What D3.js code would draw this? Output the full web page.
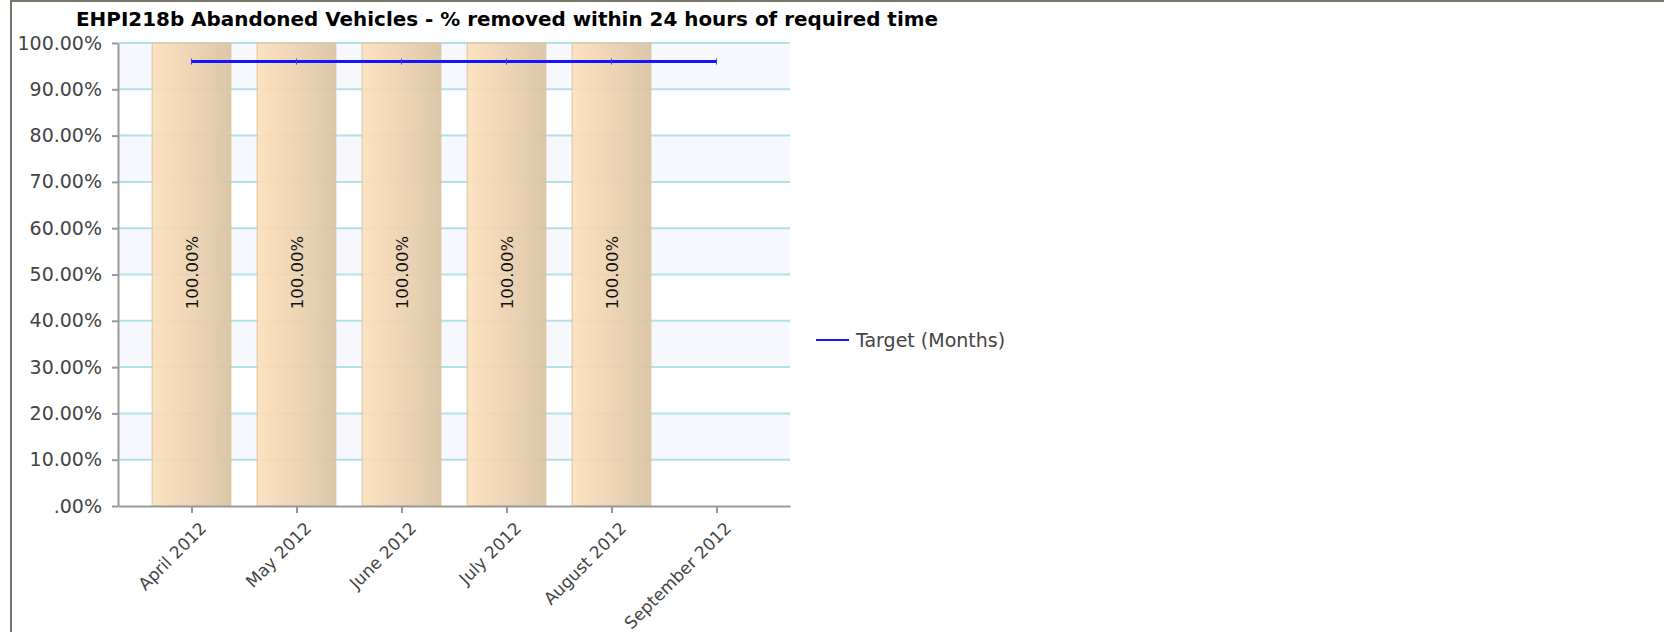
<!DOCTYPE html>
<html>
<head>
<meta charset="utf-8">
<script src="https://cdn.jsdelivr.net/npm/d3@7"></script>
<style>
body { margin: 0; background: #fff; }
svg { display: block; font-family: "DejaVu Sans", Verdana, sans-serif; }
</style>
</head>
<body>
<div id="chart"></div>
<script>
// dados do gráfico
var months = ["April 2012", "May 2012", "June 2012", "July 2012", "August 2012", "September 2012"];
var actual = [100, 100, 100, 100, 100, null];
var target = [96, 96, 96, 96, 96, 96];
var yTicks = [0, 10, 20, 30, 40, 50, 60, 70, 80, 90, 100];
var title = "EHPI218b Abandoned Vehicles - % removed within 24 hours of required time";
var legendLabel = "Target (Months)";

var width = 1664;
var height = 632;
var plotLeft = 118, plotRight = 790, plotTop = 43, plotBottom = 506;

var svg = d3.select("#chart")
.append("svg")
.attr("width", width)
.attr("height", height);

// gradiente das barras
var grad = svg.append("defs").append("linearGradient")
.attr("id", "barGrad")
.attr("x1", "0%").attr("x2", "100%").attr("y1", "0%").attr("y2", "0%");
grad.append("stop").attr("offset", "0%").attr("stop-color", "#fce1bd");
grad.append("stop").attr("offset", "100%").attr("stop-color", "#dbc3a3");

// moldura
svg.append("rect").attr("x", 10).attr("y", 0).attr("width", width - 10).attr("height", 2).attr("fill", "#78786a");
svg.append("rect").attr("x", 10).attr("y", 0).attr("width", 2).attr("height", height).attr("fill", "#78786a");

var x = d3.scalePoint().domain(months).range([plotLeft, plotRight]).padding(0.7);
var y = d3.scaleLinear().domain([0, 100]).range([plotBottom, plotTop]);
var barW = x.step() * 0.75;

function fmt(v) {
  var s = d3.format(".2f")(v) + "%";
  return v === 0 ? s.slice(1) : s;
}

// faixas alternadas
svg.selectAll("rect.band")
.data(yTicks.slice(0, -1).filter(function(d, i) { return i % 2 === 1; }))
.enter()
.append("rect")
.attr("class", "band")
.attr("x", plotLeft)
.attr("y", d => y(d + 10))
.attr("width", plotRight - plotLeft)
.attr("height", d => y(d) - y(d + 10))
.attr("fill", "#f7f8fd");

// linhas de grade
svg.selectAll("line.grid")
.data(yTicks.slice(1))
.enter()
.append("line")
.attr("class", "grid")
.attr("x1", plotLeft).attr("x2", plotRight)
.attr("y1", d => y(d)).attr("y2", d => y(d))
.attr("stroke", "#b4e0e8")
.attr("stroke-width", 2);

// barras
var barData = months.map((m, i) => ({ month: m, value: actual[i] })).filter(d => d.value != null);
svg.selectAll("rect.bar")
.data(barData)
.enter()
.append("rect")
.attr("class", "bar")
.attr("x", d => x(d.month) - barW / 2)
.attr("y", d => y(d.value))
.attr("width", barW)
.attr("height", d => y(0) - y(d.value))
.attr("fill", "url(#barGrad)")
.attr("fill-opacity", 0.93)
.attr("stroke", "#dcc29f")
.attr("stroke-width", 1);

// rótulos das barras
svg.selectAll("text.barlabel")
.data(barData)
.enter()
.append("text")
.attr("class", "barlabel")
.attr("transform", d => "translate(" + (x(d.month) + 6) + "," + ((y(d.value) + y(0)) / 2 - 2) + ") rotate(-90)")
.attr("text-anchor", "middle")
.attr("font-size", 16.5)
.attr("fill", "#111")
.text(d => fmt(d.value));

// linha da meta
var line = d3.line()
.x((d, i) => x(months[i]))
.y(d => y(d));

svg.append("path")
.attr("d", line(target))
.attr("fill", "none")
.attr("stroke", "#1414ff")
.attr("stroke-width", 3);

svg.selectAll("line.marker")
.data(target)
.enter()
.append("line")
.attr("class", "marker")
.attr("x1", (d, i) => x(months[i])).attr("x2", (d, i) => x(months[i]))
.attr("y1", d => y(d) - 3).attr("y2", d => y(d) + 3)
.attr("stroke", "#3a3aff")
.attr("stroke-width", 1);

// eixos
var yAxis = d3.axisLeft(y).tickValues(yTicks).tickFormat(fmt).tickSize(6).tickSizeOuter(0).tickPadding(10);
var gy = svg.append("g")
.attr("transform", "translate(" + plotLeft + ",0)")
.call(yAxis);
gy.select(".domain").attr("stroke", "#999").attr("stroke-width", 2);
gy.selectAll(".tick line").attr("stroke", "#999").attr("stroke-width", 2);
gy.selectAll(".tick text")
.attr("font-size", 19)
.attr("font-family", "DejaVu Sans")
.attr("fill", "#444");

var xAxis = d3.axisBottom(x).tickSize(7).tickSizeOuter(0).tickPadding(4);
var gx = svg.append("g")
.attr("transform", "translate(0," + plotBottom + ")")
.call(xAxis);
gx.select(".domain").attr("stroke", "#999").attr("stroke-width", 2);
gx.selectAll(".tick line").attr("stroke", "#999").attr("stroke-width", 2);
gx.selectAll(".tick text")
.attr("font-size", 17)
.attr("font-family", "DejaVu Sans")
.attr("fill", "#444")
.attr("text-anchor", "end")
.attr("dy", "0.3em")
.attr("transform", "translate(4,12) rotate(-45)");

// título
svg.append("text")
.attr("x", 76)
.attr("y", 26)
.attr("font-size", 20)
.attr("font-weight", "bold")
.attr("fill", "#000")
.attr("textLength", 862)
.attr("lengthAdjust", "spacingAndGlyphs")
.text(title);

// legenda
svg.append("line")
.attr("x1", 816).attr("x2", 849)
.attr("y1", 340).attr("y2", 340)
.attr("stroke", "#1414ff")
.attr("stroke-width", 2);

svg.append("text")
.attr("x", 856)
.attr("y", 340)
.attr("dy", "0.35em")
.attr("font-size", 19)
.attr("fill", "#444")
.text(legendLabel);
</script>
</body>
</html>
